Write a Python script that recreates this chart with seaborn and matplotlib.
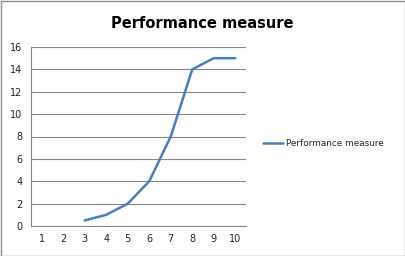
import matplotlib
matplotlib.use("Agg")
import matplotlib.pyplot as plt
import seaborn as sns
import numpy as np
import pandas as pd
from matplotlib.patches import Rectangle

categories = [1, 2, 3, 4, 5, 6, 7, 8, 9, 10]
values = [np.nan, np.nan, 0.5, 1, 2, 4, 8, 14, 15, 15]
series_name = "Performance measure"
title = "Performance measure"
yticks = [0, 2, 4, 6, 8, 10, 12, 14, 16]

df = pd.DataFrame({"x": categories, "y": values, "series": series_name})

sns.set_style("white")
plt.rcParams['font.family'] = ['DejaVu Sans']

fig = plt.figure(figsize=(4.05, 2.56), dpi=100)
ax = fig.add_axes([31/405, 1-226/256, (246-31)/405, (226-47)/256])

sns.lineplot(data=df.dropna(), x="x", y="y", hue="series", palette=["#4A7EBB"],
             linewidth=1.8, ax=ax, legend=True)

ax.set_xlim(0.5, 10.5)
ax.set_ylim(0, 16)
ax.set_yticks(yticks)
ax.set_yticklabels([str(v) for v in yticks], fontsize=7, color="#222222")
ax.set_xticks(categories)
ax.set_xticklabels([str(c) for c in categories], fontsize=7, color="#222222")
ax.set_xticks(np.arange(0.5, 11, 1), minor=True)
ax.tick_params(axis="x", which="major", length=0, pad=6)
ax.tick_params(axis="x", which="minor", length=4, color="#868686", direction="out")
ax.tick_params(axis="y", which="major", length=4, color="#868686", direction="out", pad=2)
ax.set_xlabel("")
ax.set_ylabel("")
ax.yaxis.grid(True, color="#868686", linewidth=0.8)
ax.set_axisbelow(True)
for side in ["top", "right"]:
    ax.spines[side].set_visible(False)
for side in ["left", "bottom"]:
    ax.spines[side].set_color("#868686")
    ax.spines[side].set_linewidth(0.8)

leg = ax.legend(loc="center left", frameon=False, fontsize=6.4,
                handlelength=2.3, handletextpad=0.3)
leg.set_bbox_to_anchor((255/405, 1-144/256), transform=fig.transFigure)

fig.text(202/405, 1-23/256, title, ha="center", va="center", fontsize=10.5,
         fontweight="bold", color="#000000")

fig.patches.append(Rectangle((0.5/405, 0.5/256), 1-1/405, 1-1/256, transform=fig.transFigure,
                             fill=False, edgecolor="#8c8c8c", linewidth=1))

fig.savefig("out.png", dpi=100)
